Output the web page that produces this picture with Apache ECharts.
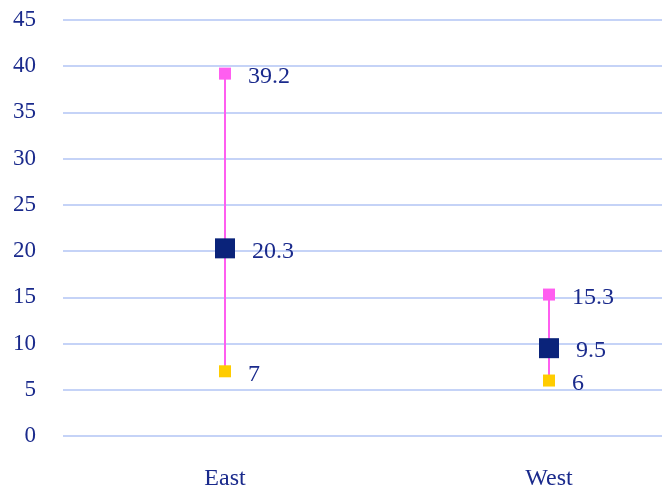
<!DOCTYPE html>
<html><head><meta charset="utf-8">
<script src="https://cdn.jsdelivr.net/npm/echarts@6/dist/echarts.min.js"></script>
<style>html,body{margin:0;padding:0;background:#fff}#c{width:662px;height:494px}</style>
</head><body><div id="c"></div>
<script>
const categories = ['East', 'West'];
const highValues = [39.2, 15.3];
const midValues = [20.3, 9.5];
const lowValues = [7, 6];
const yTicks = [0, 5, 10, 15, 20, 25, 30, 35, 40, 45];

const font = 'Liberation Serif';
const textColor = '#1a2a8c';
const chart = echarts.init(document.getElementById('c'));
const lbl = {show: true, position: 'right', distance: 17, offset: [0, 3], color: textColor, fontFamily: font, fontSize: 24};
chart.setOption({
  animation: false,
  grid: {left: 63, width: 648, top: 20, height: 416, outerBoundsMode: 'none', containLabel: false},
  xAxis: {type: 'category', data: categories, boundaryGap: true,
    axisLine: {show: false}, axisTick: {show: false},
    axisLabel: {color: textColor, fontFamily: font, fontSize: 24, margin: 31}},
  yAxis: {type: 'value', min: yTicks[0], max: yTicks[yTicks.length-1], interval: 5,
    splitLine: {lineStyle: {color: '#c5d3f7', width: 2}},
    axisLine: {show: false}, axisTick: {show: false},
    axisLabel: {color: textColor, fontFamily: font, fontSize: 23, margin: 27}},
  series: [
    {type: 'custom', z: 1, data: categories.map((c, i) => [i, lowValues[i], highValues[i]]),
      renderItem: function (params, api) {
        const p1 = api.coord([api.value(0), api.value(1)]);
        const p2 = api.coord([api.value(0), api.value(2)]);
        return {type: 'line', shape: {x1: p1[0], y1: p1[1], x2: p2[0], y2: p2[1]},
          style: {stroke: '#ff5ef0', lineWidth: 2}};
      }},
    {type: 'scatter', z: 3, symbol: 'rect', symbolSize: 12, data: highValues,
      itemStyle: {color: '#ff5ef0', opacity: 1}, label: lbl},
    {type: 'scatter', z: 3, symbol: 'rect', symbolSize: 12, data: lowValues,
      itemStyle: {color: '#ffcc00', opacity: 1}, label: lbl},
    {type: 'scatter', z: 4, symbol: 'rect', symbolSize: 20, data: midValues,
      itemStyle: {color: '#0a237a', opacity: 1}, label: lbl}
  ]
});
</script></body></html>
